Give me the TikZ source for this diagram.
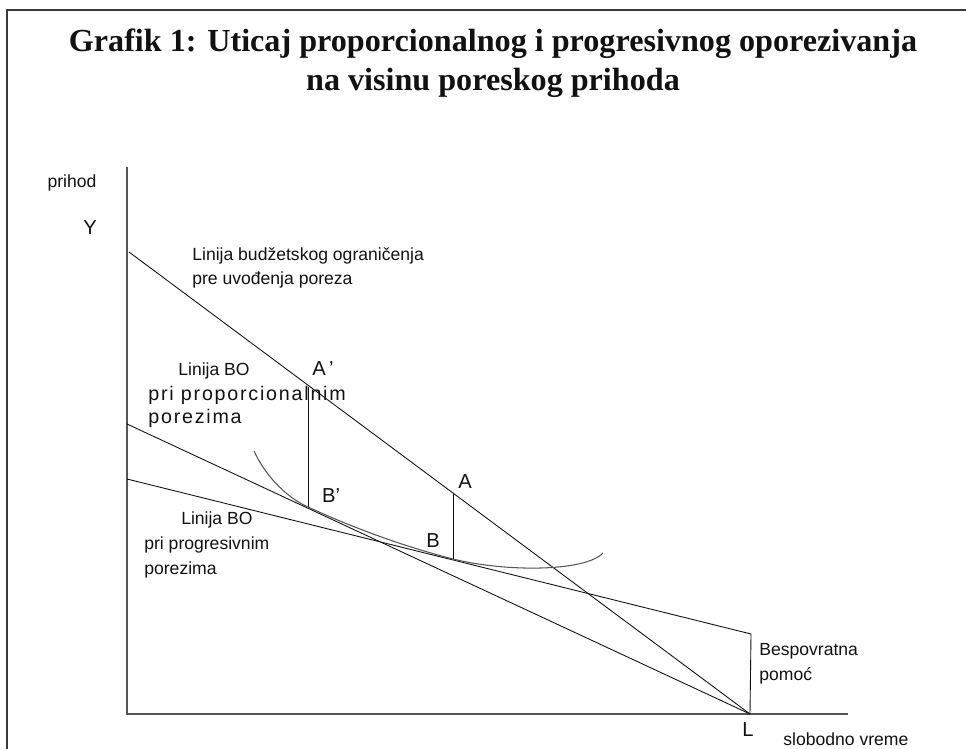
\documentclass[tikz,border=0pt]{standalone}
\usepackage{fontspec}
\setmainfont{Liberation Serif}
\setsansfont{Liberation Sans}
\newfontfamily\spacedsans{Liberation Sans}[LetterSpace=9]
\usepackage{tikz}
\usetikzlibrary{positioning, calc}
\definecolor{framegray}{HTML}{3A3A3A}
\definecolor{axisgray}{HTML}{555555}
\definecolor{dark}{HTML}{111111}
\tikzset{
    framerule/.style={
        draw=framegray, line width=1.2pt
    },
    axisline/.style={
        draw=axisgray, line width=0.8pt
    },
    budgetline/.style={
        draw=dark, line width=0.5pt
    },
    curveline/.style={
        draw=axisgray, line width=0.6pt
    },
    titlelab/.style={
        font=\fontsize{18.3}{21.5}\selectfont\bfseries, text=dark, inner sep=0pt, anchor=base
    },
    notelab/.style={
        font=\sffamily\fontsize{10}{14.2}\selectfont, text=dark, align=left, inner sep=0pt
    },
    pointlab/.style={
        font=\sffamily\fontsize{11.5}{12}\selectfont, text=dark, inner sep=0pt
    },
    spacedlab/.style={
        font=\spacedsans\fontsize{11.2}{13}\selectfont, text=dark, align=left, inner sep=0pt
    },
}
\begin{document}
\begin{tikzpicture}[x=0.02cm, y=-0.02cm]

    \useasboundingbox (0,0) rectangle (966,749);

    % Frame
    \draw[framerule] (966,10) -- (7,10) -- (7,749);

    % Title
    \node[titlelab] (title) at (493,52) {Grafik 1: Uticaj proporcionalnog i progresivnog oporezivanja};
    \node[titlelab] (title2) at (493,91) {na visinu poreskog prihoda};

    % Axes
    \coordinate (origin) at (127,714);
    \coordinate (ytop) at (127,167);
    \coordinate (xend) at (848,714);
    \draw[axisline] (ytop) -- (origin) -- (xend);

    % Budget lines
    \coordinate (L) at (750,714);
    \coordinate (Ybud) at (129,252);
    \coordinate (Ppro) at (127,424);
    \coordinate (Pprog) at (127,479);
    \coordinate (aid) at (751,634);
    \draw[budgetline] (Ybud) -- (L);
    \draw[budgetline] (Ppro) -- (L);
    \draw[budgetline] (Pprog) -- (aid) -- (L);

    % Tax distances
    \coordinate (Aprime) at (308,387);
    \coordinate (Bprime) at (308,507);
    \coordinate (Apt) at (453,493);
    \coordinate (Bpt) at (453,559);
    \draw[budgetline] (Aprime) -- (Bprime);
    \draw[budgetline] (Apt) -- (Bpt);

    % Indifference curve
    \draw[curveline] (254,451) .. controls (263,471) and (283,496) .. (Bprime)
        .. controls (360,531) and (410,548) .. (Bpt)
        .. controls (505,572) and (585,572) .. (603,553);

    % Axis labels
    \node[notelab, anchor=base] (prihod) at (72,188) {prihod};
    \node[pointlab] (ylab) at (90,228) {Y};
    \node[pointlab] (llab) at (748,730) {L};
    \node[notelab, anchor=base west] (vreme) at (783,745) {slobodno vreme};

    % Point labels
    \node[pointlab] (alab') at (323,369) {A\,'};
    \node[pointlab] (blab') at (331,496) {B'};
    \node[pointlab] (alab) at (465,482) {A};
    \node[pointlab] (blab) at (433,541) {B};

    % Line notes (base = last line)
    \node[notelab, anchor=base west] (pretax) at (192,285) {Linija budžetskog ograničenja\\pre uvođenja poreza};
    \node[notelab, anchor=base west] (bopro) at (178,376) {Linija BO};
    \node[spacedlab, anchor=base west] (propnote) at (148,423) {pri proporcionalnim\\porezima};
    \node[notelab, anchor=base west] (boprog) at (144,574) {\hspace*{21pt}Linija BO\\pri progresivnim\\porezima};
    \node[notelab, anchor=base west] (aidnote) at (759,680) {Bespovratna\\pomoć};

\end{tikzpicture}
\end{document}
